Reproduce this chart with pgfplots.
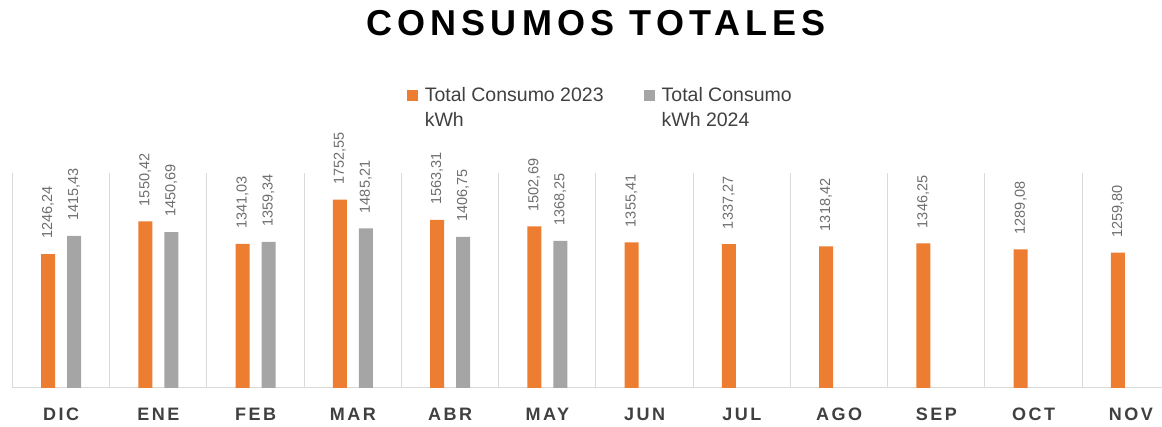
\documentclass[border=0pt]{standalone}
\usepackage{fontspec}
\setmainfont{Liberation Sans}
\newfontfamily\titlefont{Liberation Sans}[LetterSpace=14.5]
\newfontfamily\tickfont{Liberation Sans}[LetterSpace=14]
\usepackage{pgfplots}
\pgfplotsset{compat=1.18}
\definecolor{orange23}{HTML}{ED7D31}
\definecolor{gray24}{HTML}{A5A5A5}
\definecolor{gridc}{HTML}{D9D9D9}
\definecolor{lblc}{HTML}{6E6E6E}
\definecolor{tickc}{HTML}{404040}
\begin{document}
\begin{tikzpicture}
\useasboundingbox (0,0) rectangle (1162pt,427pt);
\node[anchor=base, inner sep=0pt, font=\titlefont\bfseries\fontsize{36}{40}\selectfont] at (596pt,391pt) {CONSUMOS TOTALES};
\begin{axis}[
  at={(12.4pt,39pt)}, anchor=south west,
  scale only axis, width=1149.6pt, height=215pt,
  xmin=-0.5, xmax=11.32, ymin=0, ymax=2000,
  clip=false,
  ybar=12pt, bar width=14pt,
  axis y line=none, axis x line*=bottom,
  x axis line style={draw=gridc, line width=1pt, -},
  xtick={0,...,11},
  xticklabels={DIC,ENE,FEB,MAR,ABR,MAY,JUN,JUL,AGO,SEP,OCT,NOV},
  major tick length=0pt, minor tick length=0pt,
  minor xtick={-0.5,0.5,...,10.5},
  xminorgrids=true,
  minor grid style={draw=gridc, line width=1pt},
  xticklabel style={font=\tickfont\bfseries\fontsize{18}{20}\selectfont, text=tickc, inner sep=0pt, anchor=north, yshift=-20pt},
  /pgf/number format/.cd, use comma, fixed, fixed zerofill, precision=2, 1000 sep={}, assume math mode=true,
  /pgfplots/.cd,
  nodes near coords,
  every node near coord/.append style={rotate=90, anchor=west, font=\fontsize{14.5}{16}\selectfont, text=lblc, inner xsep=15pt, inner ysep=0pt},
  legend style={at={(0.3429,1.409)}, anchor=north west, draw=none, fill=none, inner sep=0pt,
    font=\fontsize{19.5}{25}\selectfont, text=tickc,
    cells={align=left, inner sep=0pt},
    /tikz/every odd column/.append style={column sep=5pt},
    /tikz/every even column/.append style={column sep=38pt}},
  legend columns=2,
]
\addplot[fill=orange23, draw=none, legend image code/.code={\fill[orange23] (0pt,6.5pt) rectangle (11pt,17.5pt);}] coordinates {
(0,1246.24) (1,1550.42) (2,1341.03) (3,1752.55) (4,1563.31) (5,1502.69)
(6,1355.41) (7,1337.27) (8,1318.42) (9,1346.25) (10,1289.08) (11,1259.80)};
\addlegendentry{Total Consumo 2023\\kWh}
\addplot[fill=gray24, draw=none, legend image code/.code={\fill[gray24] (0pt,6.5pt) rectangle (11pt,17.5pt);}] coordinates {
(0,1415.43) (1,1450.69) (2,1359.34) (3,1485.21) (4,1406.75) (5,1368.25)};
\addlegendentry{Total Consumo\\kWh 2024}
\end{axis}
\end{tikzpicture}
\end{document}
